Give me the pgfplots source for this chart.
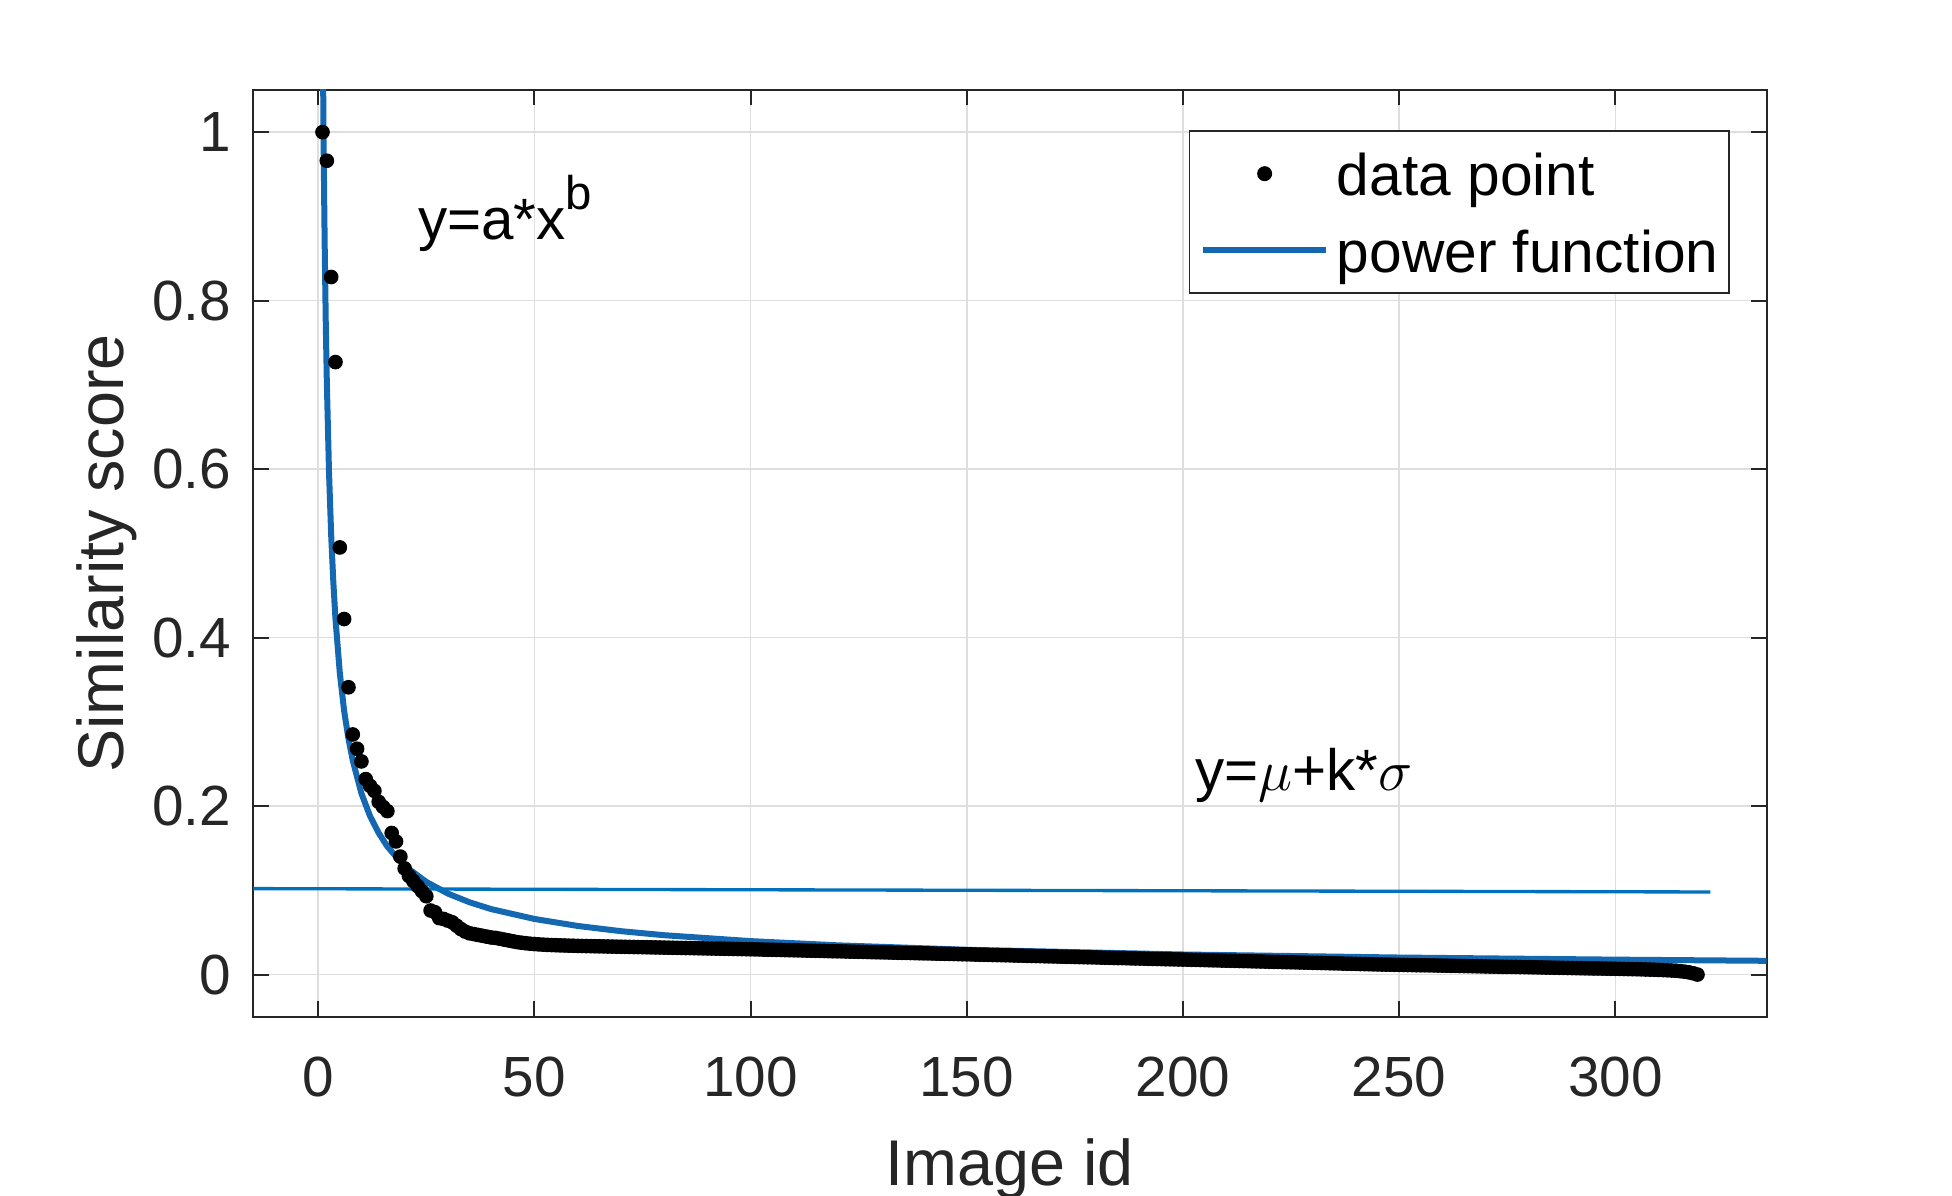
\documentclass[border=0pt]{standalone}
\usepackage{pgfplots}
\pgfplotsset{compat=1.18}
\usepackage{fontspec}
\setmainfont{Liberation Sans}
\definecolor{axgray}{RGB}{38,38,38}
\definecolor{gridgray}{RGB}{222,222,222}
\definecolor{fitblue}{RGB}{20,104,178}
\definecolor{lineblue}{RGB}{0,114,189}
\pgfplotsset{
  dotlegend/.style={legend image code/.code={\draw[mark repeat=2,mark phase=2,##1] plot coordinates {(0pt,0pt) (18.4pt,0pt) (36.8pt,0pt)};}},
  linelegend/.style={legend image code/.code={\draw[##1] (0pt,0pt) -- (36.8pt,0pt);}},
}
\begin{document}
\begin{tikzpicture}
\path[use as bounding box] (-76.0pt,-53.5pt) rectangle (509.6pt,305pt);
\begin{axis}[
  at={(0pt,0pt)}, anchor=south west,
  scale only axis, width=454pt, height=278pt,
  xmin=-15, xmax=335, ymin=-0.05, ymax=1.05,
  xtick={0,50,100,150,200,250,300},
  ytick={0,0.2,0.4,0.6,0.8,1},
  tick align=inside, xtick pos=both, ytick pos=both,
  major tick length=4.65pt,
  every tick/.style={axgray, line width=0.6pt},
  axis line style={axgray, line width=0.6pt},
  grid=major, major grid style={gridgray, line width=0.45pt},
  ticklabel style={font=\fontsize{17}{20}\selectfont, text=axgray},
  /pgf/number format/assume math mode=true,
  xticklabel style={anchor=north, inner sep=0pt, yshift=-11.8pt},
  yticklabel style={anchor=east, inner sep=0pt, xshift=-6.5pt},
  xlabel={Image id}, ylabel={Similarity score},
  label style={font=\fontsize{19.4}{22}\selectfont, text=axgray},
  xlabel style={at={(axis description cs:0.5,-0.1827)}, anchor=base},
  ylabel style={at={(axis description cs:-0.0855,0.5)}, anchor=base},
  legend style={at={(axis description cs:0.9758,0.9568)}, anchor=north east,
    draw=axgray, line width=0.5pt, fill=white, inner xsep=3.2pt, inner ysep=5pt,
    row sep=7.3pt, column sep=2.4pt, font=\fontsize{17.6}{20}\selectfont,
    nodes={inner sep=0pt, text height=14.5pt, text depth=1.2pt}},
  legend cell align=left,
]
\addplot[only marks, mark=*, mark size=2pt, black, dotlegend]
coordinates {
(1,1.000) (2,0.966) (3,0.828) (4,0.727) (5,0.507) (6,0.422) (7,0.341) (8,0.285) (9,0.268) (10,0.253)
(11,0.232) (12,0.224) (13,0.218) (14,0.205) (15,0.199) (16,0.194) (17,0.168) (18,0.158) (19,0.140) (20,0.126)
(21,0.117) (22,0.111) (23,0.105) (24,0.099) (25,0.093) (26,0.076) (27,0.074) (28,0.067) (29,0.066) (30,0.064)
(31,0.062) (32,0.058) (33,0.054) (34,0.051) (35,0.049) (36,0.048) (37,0.047) (38,0.046) (39,0.045) (40,0.044)
(41,0.0435) (42,0.0425) (43,0.0415) (44,0.0405) (45,0.0395) (46,0.0385) (47,0.0378) (48,0.0372) (49,0.0366) (50,0.0362)
(51,0.0358) (52,0.0355) (53,0.0352) (54,0.0350) (55,0.0348) (56,0.0346) (57,0.0345) (58,0.0343) (59,0.0342) (60,0.0340)
(61,0.0339) (62,0.0338) (63,0.0337) (64,0.0336) (65,0.0335) (66,0.0334) (67,0.0333) (68,0.0332) (69,0.0331) (70,0.0330)
(71,0.0329) (72,0.0328) (73,0.0327) (74,0.0326) (75,0.0325) (76,0.0324) (77,0.0323) (78,0.0322) (79,0.0321) (80,0.0320)
(81,0.0319) (82,0.0318) (83,0.0317) (84,0.0316) (85,0.0315) (86,0.0314) (87,0.0313) (88,0.0312) (89,0.0311) (90,0.0310)
(91,0.0309) (92,0.0308) (93,0.0307) (94,0.0306) (95,0.0305) (96,0.0304) (97,0.0303) (98,0.0302) (99,0.0301) (100,0.0300)
(101,0.0299) (102,0.0298) (103,0.0296) (104,0.0295) (105,0.0294) (106,0.0293) (107,0.0292) (108,0.0290) (109,0.0289) (110,0.0288)
(111,0.0287) (112,0.0286) (113,0.0284) (114,0.0283) (115,0.0282) (116,0.0281) (117,0.0280) (118,0.0278) (119,0.0277) (120,0.0276)
(121,0.0275) (122,0.0274) (123,0.0272) (124,0.0271) (125,0.0270) (126,0.0269) (127,0.0268) (128,0.0266) (129,0.0265) (130,0.0264)
(131,0.0263) (132,0.0262) (133,0.0260) (134,0.0259) (135,0.0258) (136,0.0257) (137,0.0256) (138,0.0254) (139,0.0253) (140,0.0252)
(141,0.0251) (142,0.0250) (143,0.0248) (144,0.0247) (145,0.0246) (146,0.0245) (147,0.0244) (148,0.0242) (149,0.0241) (150,0.0240)
(151,0.0239) (152,0.0237) (153,0.0236) (154,0.0235) (155,0.0234) (156,0.0232) (157,0.0231) (158,0.0230) (159,0.0229) (160,0.0228)
(161,0.0226) (162,0.0225) (163,0.0224) (164,0.0222) (165,0.0221) (166,0.0220) (167,0.0219) (168,0.0217) (169,0.0216) (170,0.0215)
(171,0.0214) (172,0.0212) (173,0.0211) (174,0.0210) (175,0.0209) (176,0.0207) (177,0.0206) (178,0.0205) (179,0.0204) (180,0.0203)
(181,0.0201) (182,0.0200) (183,0.0199) (184,0.0197) (185,0.0196) (186,0.0195) (187,0.0194) (188,0.0192) (189,0.0191) (190,0.0190)
(191,0.0189) (192,0.0187) (193,0.0186) (194,0.0185) (195,0.0184) (196,0.0182) (197,0.0181) (198,0.0180) (199,0.0179) (200,0.0178)
(201,0.0177) (202,0.0175) (203,0.0174) (204,0.0173) (205,0.0172) (206,0.0170) (207,0.0169) (208,0.0168) (209,0.0166) (210,0.0165)
(211,0.0164) (212,0.0163) (213,0.0161) (214,0.0160) (215,0.0159) (216,0.0157) (217,0.0156) (218,0.0155) (219,0.0154) (220,0.0152)
(221,0.0151) (222,0.0150) (223,0.0148) (224,0.0147) (225,0.0146) (226,0.0145) (227,0.0143) (228,0.0142) (229,0.0141) (230,0.0139)
(231,0.0138) (232,0.0137) (233,0.0136) (234,0.0134) (235,0.0133) (236,0.0132) (237,0.0130) (238,0.0129) (239,0.0128) (240,0.0127)
(241,0.0125) (242,0.0124) (243,0.0123) (244,0.0121) (245,0.0120) (246,0.0119) (247,0.0118) (248,0.0117) (249,0.0116) (250,0.0115)
(251,0.0114) (252,0.0113) (253,0.0112) (254,0.0111) (255,0.0110) (256,0.0110) (257,0.0109) (258,0.0108) (259,0.0107) (260,0.0106)
(261,0.0105) (262,0.0104) (263,0.0103) (264,0.0102) (265,0.0101) (266,0.0100) (267,0.0099) (268,0.0098) (269,0.0097) (270,0.0096)
(271,0.0095) (272,0.0094) (273,0.0093) (274,0.0092) (275,0.0091) (276,0.0091) (277,0.0090) (278,0.0089) (279,0.0088) (280,0.0087)
(281,0.0086) (282,0.0085) (283,0.0084) (284,0.0083) (285,0.0082) (286,0.0081) (287,0.0080) (288,0.0079) (289,0.0078) (290,0.0077)
(291,0.0076) (292,0.0075) (293,0.0074) (294,0.0073) (295,0.0072) (296,0.0072) (297,0.0071) (298,0.0070) (299,0.0069) (300,0.0068)
(301,0.0067) (302,0.0066) (303,0.0065) (304,0.0064) (305,0.0063) (306,0.0062) (307,0.0060) (308,0.0059) (309,0.0057) (310,0.0055)
(311,0.0053) (312,0.0051) (313,0.0048) (314,0.0045) (315,0.0040) (316,0.0034) (317,0.0026) (318,0.0015) (319,0.0000)
};
\addplot[fitblue, line width=1.8pt, no marks, linelegend]
coordinates {
(1.1,1.090) (1.2,1.023) (1.3,0.965) (1.4,0.914) (1.5,0.868) (1.75,0.775) (2,0.703) (2.5,0.597)
(3,0.522) (3.5,0.466) (4,0.422) (5,0.358) (6,0.313) (7,0.280) (8,0.254) (10,0.215) (12,0.188)
(14,0.168) (16,0.152) (18,0.140) (20,0.129) (25,0.110) (30,0.0961) (35,0.0858) (40,0.0777)
(50,0.0660) (60,0.0577) (70,0.0515) (80,0.0467) (100,0.0397) (120,0.0347) (150,0.0294)
(200,0.0238) (250,0.0202) (300,0.0177) (335,0.0163)
};
\addplot[lineblue, line width=1.0pt, no marks, forget plot]
coordinates {(-15,0.102) (322,0.098)};
\legend{data point, power function}
\node[anchor=base west, inner sep=0pt, font=\fontsize{17.5}{20}\selectfont] at (axis cs:23.0,0.872)
  {y=a*x\raisebox{9pt}{\fontsize{14.2}{16}\selectfont b}};
\node[anchor=base west, inner sep=0pt, font=\fontsize{17.5}{20}\selectfont] at (axis cs:202.7,0.218)
  {y=$\mu$+k*$\sigma$};
\end{axis}
\end{tikzpicture}
\end{document}
